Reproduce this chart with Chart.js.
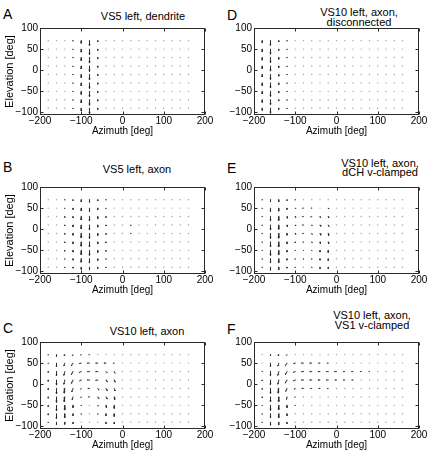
<!DOCTYPE html>
<html>
<head>
<meta charset="utf-8">
<script src="https://cdn.jsdelivr.net/npm/chart.js@4.4.0/dist/chart.umd.min.js"></script>
<style>
  body { margin: 0; background: #fff; width: 430px; height: 453px; position: relative; overflow: hidden;
         font-family: "Liberation Sans", Arial, sans-serif; }
  canvas { position: absolute; }
  .ttl { position: absolute; width: 150px; font-size: 11px; line-height: 9.5px; text-align: center; white-space: nowrap; color: #000; }
  .lbl { position: absolute; font-size: 14px; line-height: 14px; color: #000; }
</style>
</head>
<body>
<div class="lbl" style="left:3px;top:7px">A</div>
<div class="lbl" style="left:227px;top:7.5px">D</div>
<div class="lbl" style="left:3px;top:160px">B</div>
<div class="lbl" style="left:227px;top:161px">E</div>
<div class="lbl" style="left:3px;top:321px">C</div>
<div class="lbl" style="left:227px;top:322px">F</div>

<div class="ttl" style="left:68px;top:12px">VS5 left, dendrite</div>
<div class="ttl" style="left:284px;top:8px">VS10 left, axon,<br>disconnected</div>
<div class="ttl" style="left:62px;top:165px">VS5 left, axon</div>
<div class="ttl" style="left:305px;top:158.5px">VS10 left, axon,<br>dCH v-clamped</div>
<div class="ttl" style="left:72px;top:327px">VS10 left, axon</div>
<div class="ttl" style="left:297px;top:311px">VS10 left, axon,<br>VS1 v-clamped</div>

<script>
// grid of stimulus positions
const azimuths = [-180, -160, -140, -120, -100, -80, -60, -40, -20, 0, 20, 40, 60, 80, 100, 120, 140, 160];
const elevations = [70, 50, 30, 10, -10, -30, -50, -70, -90];
const xTicks = [-200, -100, 0, 100, 200];
const yTicks = [-100, -50, 0, 50, 100];

// local motion vectors [deg], rows = elevations, cols = azimuths (missing = 0)
// A: VS5 left, dendrite
const vs5DendriteV = [
  [0, 0, 0, -1, -6, -12, -3],
  [0, 0, 0, -1, -7, -13, -3],
  [0, 0, 0, -1, -7, -13, -3],
  [0, 0, 0, -1, -7, -13, -3],
  [0, 0, 0, -1, -7, -13, -3],
  [0, 0, 0, -1, -7, -13, -3],
  [0, 0, 0, -1, -7, -13, -3],
  [0, 0, 0, -1, -7, -13, -3],
  [0, 0, 0, -1, -6, -13, -3]
];
// D: VS10 left, axon, disconnected
const vs10DisconnV = [
  [-5, -11, -3, -1],
  [-6, -12, -3, -1],
  [-6, -12, -4, -1],
  [-6, -12, -4, -1],
  [-6, -12, -4, -1],
  [-6, -12, -4, -1],
  [-6, -12, -4, -1],
  [-6, -12, -3, -1],
  [-5, -12, -3, -1]
];
// B: VS5 left, axon
const vs5AxonV = [
  [0, 0, -1, -2, -5, -6, -3, -1],
  [0, 0, -1, -3, -6, -8, -4, -1],
  [0, 0, -2, -3, -8, -10, -5, -2],
  [0, 0, -2, -4, -9, -11, -5, -2, 0, 0, -1],
  [0, 0, -2, -4, -10, -12, -5, -2, 0, 0, -1],
  [0, 0, -2, -4, -10, -12, -5, -2],
  [0, 0, -2, -4, -10, -12, -5, -2],
  [0, 0, -1, -3, -8, -10, -4, -1],
  [0, 0, -1, -2, -5, -6, -3, -1]
];
// E: VS10 left, axon, dCH v-clamped
const vs10DchU = [
  [0, 0, 0, 0, 0, 0, 0, 0, 0],
  [0, 0, 0, 0, 1, -3, -2, 0, 1],
  [0, 0, 0, 1, 1, -3, -3, 1, 1],
  [0, 0, 0, 1, 1, -3, 1, 2, 2],
  [0, 0, 0, 0, 1, -3, 1, 2, 1],
  [0, 0, 0, 0, 0, -1, 1, 1, 1],
  [0, 0, 0, 0, 0, 0, 0, 0, 0],
  [0, 0, 0, 0, 0, 0, 0, 0, 0],
  [0, 0, 0, 0, 0, 0, 0, 0, 0]
];
const vs10DchV = [
  [-1, -5, -5, -2, -1, 0, 0, 0, 0],
  [-1, -8, -7, -3, -1, 0, 0, 0, -2],
  [-1, -10, -9, -4, -2, 0, -1, -2, -3],
  [-1, -12, -10, -4, -2, 0, -2, -3, -4],
  [-1, -12, -11, -4, -2, 0, -2, -4, -5],
  [-1, -12, -11, -4, -2, -1, -2, -4, -5],
  [-1, -12, -10, -4, -1, -1, -1, -4, -5],
  [-1, -10, -9, -3, -1, -1, -1, -3, -4],
  [-1, -7, -6, -2, -1, 0, -1, -3, -3]
];
// C: VS10 left, axon
const vs10AxonU = [
  [0, 0, -1, -2, -2, -2, 0, 0, 0],
  [0, 0, -2, -4, -5, -5, -5, -5, -3],
  [0, 0, -2, -4, -5, -5, -5, 3, 2],
  [0, 0, -2, -4, -4, -5, -5, 3, 2],
  [0, 0, -1, -3, -2, -4, 3, 3, 2],
  [0, 0, -1, -2, -1, -3, 3, 3, 1],
  [0, 0, 0, 0, 0, 0, 2, 1, 0],
  [0, 0, 0, 0, 0, 0, 0, 0, 0],
  [0, 0, 0, 0, 0, 0, 0, 0, 0]
];
const vs10AxonV = [
  [-1, -4, -3, -3, -1, 0, 0, 0, 0],
  [-1, -8, -7, -6, -1, 0, 0, 0, 0],
  [-2, -10, -9, -7, -2, 0, 0, -3, -4],
  [-3, -12, -10, -8, -2, 0, -1, -4, -5],
  [-3, -13, -11, -8, -2, 0, -4, -5, -6],
  [-3, -13, -11, -7, -2, 0, -4, -5, -7],
  [-3, -13, -11, -5, -1, 0, -2, -5, -7],
  [-3, -11, -9, -4, -1, 0, -1, -4, -6],
  [-1, -6, -5, -3, 0, 0, 0, -3, -4]
];
// F: VS10 left, axon, VS1 v-clamped
const vs10Vs1U = [
  [0, 0, -1, -2, 0],
  [0, 0, -2, -4, -4, -5, -5, -4, -3],
  [0, 0, -2, -4, -5, -5, -5, -5, -5, -5, -4, -4, -3, -2],
  [0, 0, -2, -4, -5, -5, -5, -5, -5, -4, -4, -3],
  [0, 0, -1, -3, -3, -4, -4, -3, -3],
  [0, 0, 0, -1, -2, -1],
  [0, 0, 0, 0, 0],
  [0, 0, 0, 0, 0],
  [0, 0, 0, 0, 0]
];
const vs10Vs1V = [
  [0, -3, -3, -2, 0],
  [0, -8, -7, -6, -1],
  [-1, -10, -9, -7, -2],
  [-2, -11, -10, -7, -2],
  [-2, -12, -11, -7, -2],
  [-2, -12, -11, -6, -1],
  [-1, -12, -10, -5, -1],
  [-1, -10, -9, -4, 0],
  [-1, -7, -6, -3, 0]
];

const FONT = '"Liberation Sans", Arial, sans-serif';
const PAD_TOP = 8, PLOT_H = 87, X_AXIS_H = 30, Y_AXIS_W = 40, CANVAS_W = 215;

function gridPoints() {
  const pts = [];
  elevations.forEach(el => azimuths.forEach(az => pts.push({x: az, y: el})));
  return pts;
}

// quiver style segments (shaft + MATLAB-like head), gaps separate arrows
function arrowPoints(U, V) {
  const pts = [];
  const a = 0.33, b = 0.33;
  elevations.forEach((el, r) => azimuths.forEach((az, c) => {
    const u = U ? (U[r][c] || 0) : 0;
    const v = V[r][c] || 0;
    if (Math.hypot(u, v) < 0.5) return;
    const tx = az + u, ty = el + v;
    pts.push({x: az, y: el}, {x: tx, y: ty}, {x: null, y: null});
    pts.push({x: tx - a * (u + b * v), y: ty - a * (v - b * u)}, {x: tx, y: ty},
             {x: tx - a * (u - b * v), y: ty - a * (v + b * u)}, {x: null, y: null});
  }));
  return pts;
}

const minus = v => String(v).replace('-', '\u2212');

const boxPlugin = {
  id: 'box',
  afterDraw(chart) {
    const {ctx, chartArea: a, scales: {x, y}} = chart;
    const l = Math.round(a.left) + 0.5, r = Math.round(a.right) - 0.5;
    const t = Math.round(a.top) + 0.5, bt = Math.round(a.bottom) - 0.5;
    ctx.save();
    ctx.strokeStyle = '#2a2a2a';
    ctx.lineWidth = 1;
    ctx.strokeRect(l, t, r - l, bt - t);
    ctx.beginPath();
    xTicks.forEach(v => {
      const px = Math.round(x.getPixelForValue(v)) + 0.5;
      ctx.moveTo(px, bt); ctx.lineTo(px, bt - 3);
      ctx.moveTo(px, t); ctx.lineTo(px, t + 3);
    });
    yTicks.forEach(v => {
      const py = Math.round(y.getPixelForValue(v)) + 0.5;
      ctx.moveTo(l, py); ctx.lineTo(l + 3, py);
      ctx.moveTo(r, py); ctx.lineTo(r - 3, py);
    });
    ctx.stroke();
    ctx.restore();
  }
};

function makePanel(left, plotTop, U, V, withYTitle) {
  const canvas = document.createElement('canvas');
  canvas.width = CANVAS_W;
  canvas.height = PAD_TOP + PLOT_H + X_AXIS_H;
  canvas.style.left = left + 'px';
  canvas.style.top = (plotTop - PAD_TOP) + 'px';
  document.body.appendChild(canvas);

  new Chart(canvas, {
    type: 'scatter',
    data: {
      datasets: [{
        data: arrowPoints(U, V),
        showLine: true,
        spanGaps: false,
        borderColor: '#2b2b2b',
        borderWidth: 0.9,
        pointRadius: 0,
        order: 0
      }, {
        data: gridPoints(),
        pointRadius: 0.7,
        pointBackgroundColor: '#9c9c9c',
        pointBorderWidth: 0,
        order: 1
      }]
    },
    options: {
      responsive: false,
      animation: false,
      devicePixelRatio: 1,
      layout: {padding: {top: PAD_TOP, right: CANVAS_W - Y_AXIS_W - 165, left: 0, bottom: 0}},
      plugins: {legend: {display: false}, tooltip: {enabled: false}},
      scales: {
        x: {
          type: 'linear', min: -200, max: 200,
          afterBuildTicks: s => { s.ticks = xTicks.map(v => ({value: v})); },
          afterFit: s => { s.height = X_AXIS_H; },
          grid: {display: false, drawTicks: false, tickLength: 0},
          border: {display: false},
          ticks: {autoSkip: false, maxRotation: 0, padding: 0, color: '#000',
                  font: {family: FONT, size: 10}, callback: minus},
          title: {display: true, text: 'Azimuth [deg]', color: '#000',
                  font: {family: FONT, size: 10}, padding: {top: 0, bottom: 8}}
        },
        y: {
          type: 'linear', min: -106, max: 100,
          afterBuildTicks: s => { s.ticks = yTicks.map(v => ({value: v})); },
          afterFit: s => { s.width = Y_AXIS_W; },
          grid: {display: false, drawTicks: false, tickLength: 0},
          border: {display: false},
          ticks: {autoSkip: false, padding: 2, color: '#000',
                  font: {family: FONT, size: 10}, callback: minus},
          title: {display: withYTitle, text: 'Elevation [deg]', color: '#000',
                  font: {family: FONT, size: 11}, padding: {top: 3, bottom: 0}}
        }
      }
    },
    plugins: [boxPlugin]
  });
}

makePanel(0, 28, null, vs5DendriteV, true);
makePanel(214, 28, null, vs10DisconnV, false);
makePanel(0, 187, null, vs5AxonV, true);
makePanel(214, 187, vs10DchU, vs10DchV, false);
makePanel(0, 342, vs10AxonU, vs10AxonV, true);
makePanel(214, 342, vs10Vs1U, vs10Vs1V, false);
</script>
</body>
</html>
